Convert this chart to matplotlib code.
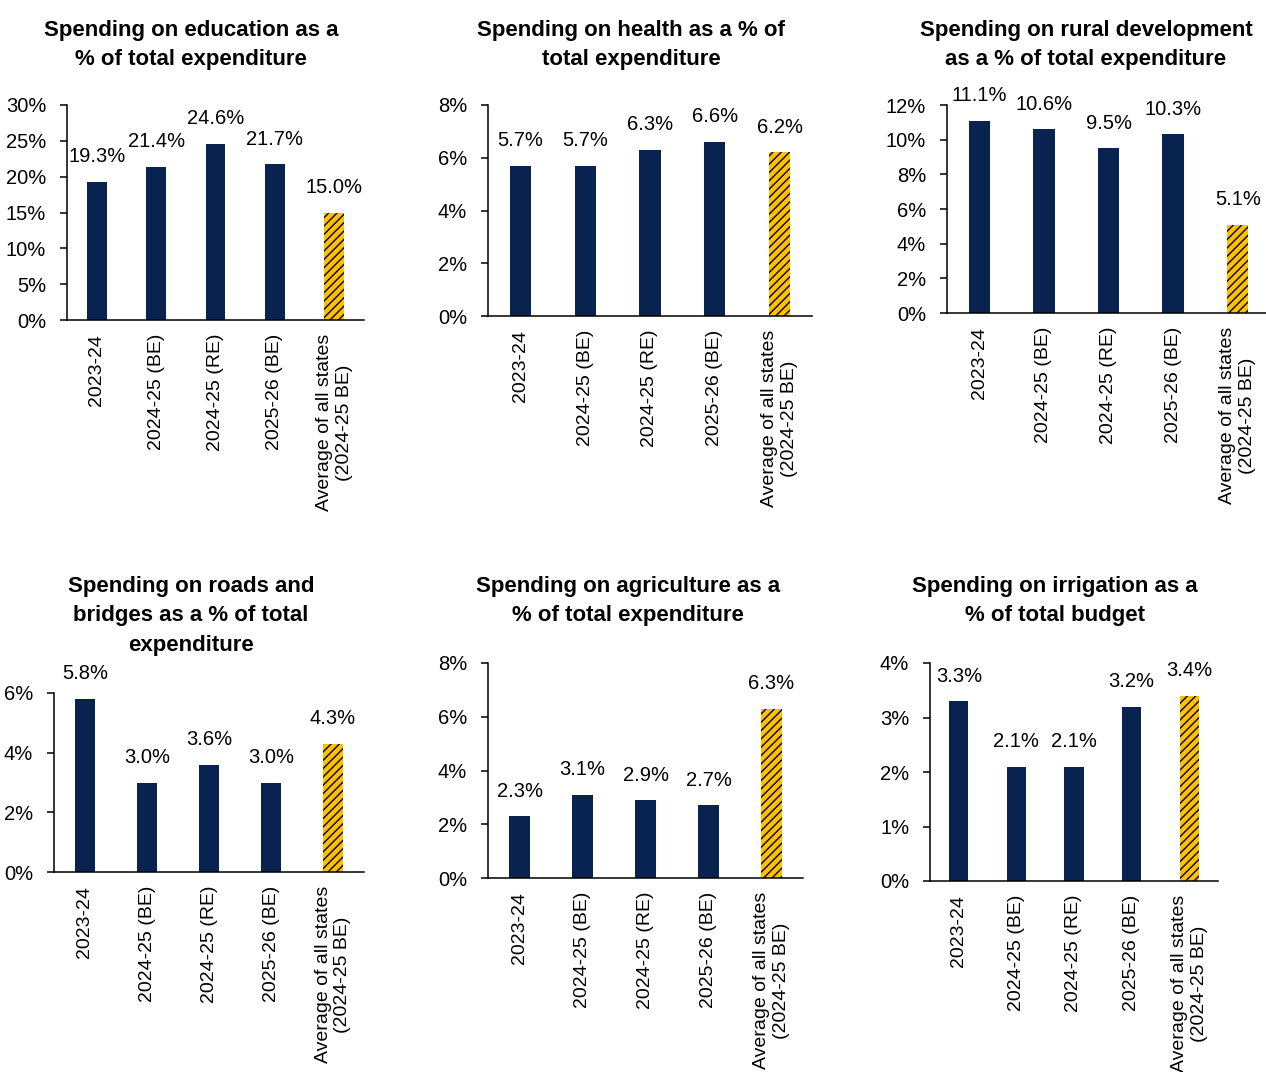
import matplotlib
matplotlib.use("Agg")
import matplotlib.pyplot as plt
import numpy as np

plt.rcParams['font.family'] = ['Liberation Sans Narrow', 'Liberation Sans', 'DejaVu Sans']
plt.rcParams['hatch.linewidth'] = 1.0

categories = ["2023-24", "2024-25 (BE)", "2024-25 (RE)", "2025-26 (BE)",
              "Average of all states\n(2024-25 BE)"]

titles = [
    "Spending on education as a\n% of total expenditure",
    "Spending on health as a % of\ntotal expenditure",
    "Spending on rural development\nas a % of total expenditure",
    "Spending on roads and\nbridges as a % of total\nexpenditure",
    "Spending on agriculture as a\n% of total expenditure",
    "Spending on irrigation as a\n% of total budget",
]

education = [19.3, 21.4, 24.6, 21.7, 15.0]
health = [5.7, 5.7, 6.3, 6.6, 6.2]
rural = [11.1, 10.6, 9.5, 10.3, 5.1]
roads = [5.8, 3.0, 3.6, 3.0, 4.3]
agriculture = [2.3, 3.1, 2.9, 2.7, 6.3]
irrigation = [3.3, 2.1, 2.1, 3.2, 3.4]

series = [education, health, rural, roads, agriculture, irrigation]
y_max = [30, 8, 12, 6, 8, 4]
y_step = [5, 2, 2, 2, 2, 1]

NAVY = "#08234F"
GOLD = "#FFC000"

W, H = 1266, 1072
fig = plt.figure(figsize=(W / 100, H / 100), dpi=100)

# axes boxes in pixels: left, right, top, bottom
boxes = [
    (67, 364, 105, 320),
    (488, 812, 105, 316),
    (947, 1270, 105, 313),
    (54, 364, 693, 872),
    (488, 803, 663, 878),
    (930, 1218, 663, 881),
]
# title centers in pixels
title_pos = [(191, 45), (631, 45), (1086, 45), (191, 616), (628, 601), (1055, 601)]

for i, vals in enumerate(series):
    l, r, t, b = boxes[i]
    ax = fig.add_axes([l / W, 1 - b / H, (r - l) / W, (b - t) / H])
    x = np.arange(len(vals))
    colors = [NAVY] * 4 + [GOLD]
    bars = ax.bar(x, vals, width=0.33, color=colors, linewidth=0)
    bars[-1].set_hatch("////")
    bars[-1].set_edgecolor("black")
    bars[-1].set_linewidth(0)
    for xi, v in zip(x, vals):
        ax.annotate(f"{v:.1f}%", (xi, v), xytext=(0, 18), textcoords="offset points",
                    ha="center", va="center", fontsize=14.5)
    ax.set_xlim(-0.5, 4.5)
    ax.set_ylim(0, y_max[i])
    ticks = np.arange(0, y_max[i] + 0.01, y_step[i])
    ax.set_yticks(ticks)
    ax.set_yticklabels([f"{int(tk)}%" for tk in ticks], fontsize=14.5)
    ax.set_xticks(x)
    ax.set_xticklabels(categories, rotation=90, fontsize=14, va="top", ha="center")
    ax.tick_params(axis="x", length=0, pad=10)
    ax.tick_params(axis="y", length=5, width=1.1, pad=10)
    for s in ["top", "right"]:
        ax.spines[s].set_visible(False)
    for s in ["left", "bottom"]:
        ax.spines[s].set_linewidth(1.1)
    tx, ty = title_pos[i]
    fig.text(tx / W, 1 - ty / H, titles[i], ha="center", va="center",
             fontsize=16, fontweight="bold", linespacing=1.55)

fig.savefig("out.png", dpi=100)
